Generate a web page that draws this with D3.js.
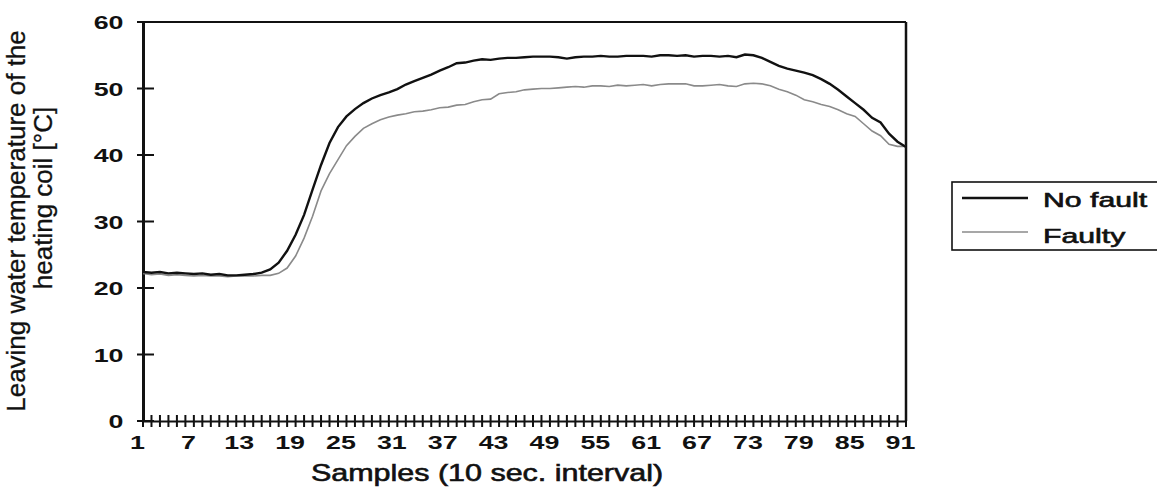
<!DOCTYPE html>
<html>
<head>
<meta charset="utf-8">
<script src="https://cdn.jsdelivr.net/npm/d3@7"></script>
<style>
  body { margin: 0; background: #fff; }
  text { font-family: "Liberation Sans", Arial, sans-serif; fill: #111; }
  .medium { stroke: #111; stroke-width: 0.6px; }
</style>
</head>
<body>
<div id="chart"></div>
<script>
// Samples (10 sec. interval)
const samples = d3.range(1, 92);

// Leaving water temperature [°C]
const noFault = [
  22.4, 22.3, 22.4, 22.2, 22.3, 22.2, 22.1, 22.2, 22.0, 22.1,
  21.9, 21.9, 22.0, 22.1, 22.3, 22.8, 23.8, 25.6, 28.0, 31.0,
  34.8, 38.5, 41.8, 44.2, 45.8, 46.9, 47.8, 48.5, 49.0, 49.4,
  49.9, 50.6, 51.1, 51.6, 52.1, 52.7, 53.2, 53.8, 53.9, 54.2,
  54.4, 54.3, 54.5, 54.6, 54.6, 54.7, 54.8, 54.8, 54.8, 54.7,
  54.5, 54.7, 54.8, 54.8, 54.9, 54.8, 54.8, 54.9, 54.9, 54.9,
  54.8, 55.0, 55.0, 54.9, 55.0, 54.8, 54.9, 54.9, 54.8, 54.9,
  54.7, 55.1, 55.0, 54.6, 54.0, 53.4, 53.0, 52.7, 52.4, 52.0,
  51.4, 50.7, 49.8, 48.8, 47.8, 46.8, 45.6, 44.9, 43.2, 42.0,
  41.2
];
const faulty = [
  22.2, 22.0, 22.1, 21.9, 22.0, 21.9, 21.8, 21.9, 21.8, 21.8,
  21.7, 21.8, 21.8, 21.8, 21.9, 21.9, 22.2, 23.0, 24.8, 27.5,
  30.8, 34.6, 37.2, 39.3, 41.4, 42.8, 44.0, 44.7, 45.3, 45.7,
  46.0, 46.2, 46.5, 46.6, 46.8, 47.1, 47.2, 47.5, 47.6, 48.0,
  48.3, 48.4, 49.2, 49.4, 49.5, 49.8, 49.9, 50.0, 50.0, 50.1,
  50.2, 50.3, 50.2, 50.4, 50.4, 50.3, 50.5, 50.4, 50.5, 50.6,
  50.4, 50.6, 50.7, 50.7, 50.7, 50.4, 50.4, 50.5, 50.6, 50.4,
  50.3, 50.7, 50.8, 50.7, 50.4, 49.9, 49.5, 49.0, 48.3, 48.0,
  47.6, 47.3, 46.8, 46.2, 45.8, 44.7, 43.6, 42.9, 41.6, 41.3,
  41.3
];

const xTickLabels = [1, 7, 13, 19, 25, 31, 37, 43, 49, 55, 61, 67, 73, 79, 85, 91];
const yTickLabels = [0, 10, 20, 30, 40, 50, 60];
const seriesNames = ["No fault", "Faulty"];

const width = 1157, height = 487;
// the scan is stretched sideways, so horizontal text gets a wider scale
const sx = 1.45;

const svg = d3.select("#chart")
  .append("svg")
    .attr("width", width)
    .attr("height", height);

const x = d3.scaleLinear().domain([1, 91]).range([143, 906]);
const y = d3.scaleLinear().domain([0, 60]).range([421, 22]);

// plot frame
svg.append("line")
  .attr("x1", x(1)).attr("x2", x(91))
  .attr("y1", y(60)).attr("y2", y(60))
  .attr("stroke", "#111").attr("stroke-width", 2);
svg.append("line")
  .attr("x1", x(91)).attr("x2", x(91))
  .attr("y1", y(60)).attr("y2", y(0))
  .attr("stroke", "#111").attr("stroke-width", 2.5);

// x axis with a tick crossing at every sample
const xAxis = svg.append("g")
  .attr("transform", `translate(0,${y(0)})`)
  .call(d3.axisBottom(x).tickValues(xTickLabels).tickSize(0).tickPadding(0));
xAxis.select(".domain").attr("stroke", "#111").attr("stroke-width", 2);
xAxis.selectAll("text")
  .attr("y", 28).attr("dy", 0)
  .attr("font-size", 18.5)
  .attr("font-weight", "bold")
  .attr("transform", `translate(-6,0) scale(${sx},1)`);

svg.append("g")
  .selectAll("line")
  .data(samples)
  .join("line")
    .attr("x1", d => x(d)).attr("x2", d => x(d))
    .attr("y1", y(0) - 6).attr("y2", y(0) + 6)
    .attr("stroke", "#111").attr("stroke-width", 2);

// y axis
const yAxis = svg.append("g")
  .attr("transform", `translate(${x(1)},0)`)
  .call(d3.axisLeft(y).tickValues(yTickLabels).tickSize(0).tickPadding(0));
yAxis.select(".domain").attr("stroke", "#111").attr("stroke-width", 3);
yAxis.selectAll("text")
  .attr("x", -19.5 / sx).attr("dy", "0.36em")
  .attr("font-size", 18.5)
  .attr("font-weight", "bold")
  .attr("text-anchor", "end")
  .attr("transform", `scale(${sx},1)`);

svg.append("g")
  .selectAll("line")
  .data(yTickLabels)
  .join("line")
    .attr("x1", x(1) - 6).attr("x2", x(1) + 11)
    .attr("y1", d => y(d)).attr("y2", d => y(d))
    .attr("stroke", "#111").attr("stroke-width", 2);

// lines
const line = d3.line()
  .x((d, i) => x(samples[i]))
  .y(d => y(d));

svg.append("path")
  .datum(faulty)
  .attr("fill", "none")
  .attr("stroke", "#8a8a8a")
  .attr("stroke-width", 1.6)
  .attr("d", line);

svg.append("path")
  .datum(noFault)
  .attr("fill", "none")
  .attr("stroke", "#111")
  .attr("stroke-width", 2.4)
  .attr("d", line);

// axis titles
svg.append("text")
  .attr("class", "medium")
  .attr("transform", `translate(487,481) scale(1.27,1)`)
  .attr("text-anchor", "middle")
  .attr("font-size", 24)
  .text("Samples (10 sec. interval)");

svg.append("text")
  .attr("transform", "translate(25,221) rotate(-90)")
  .attr("text-anchor", "middle")
  .attr("font-size", 26)
  .attr("stroke", "#111").attr("stroke-width", 0.3)
  .text("Leaving water temperature of the");
svg.append("text")
  .attr("transform", "translate(52,198) rotate(-90)")
  .attr("text-anchor", "middle")
  .attr("font-size", 26)
  .attr("stroke", "#111").attr("stroke-width", 0.3)
  .text("heating coil [°C]");

// legend
const legend = svg.append("g");
legend.append("rect")
  .attr("x", 952).attr("y", 182)
  .attr("width", 215).attr("height", 68)
  .attr("fill", "#fff")
  .attr("stroke", "#111").attr("stroke-width", 1.6);

const legendItems = [
  { name: seriesNames[0], color: "#111", w: 2.4, y: 198, base: 207 },
  { name: seriesNames[1], color: "#8a8a8a", w: 1.6, y: 232, base: 243 }
];
legend.selectAll(".key")
  .data(legendItems)
  .join("line")
    .attr("class", "key")
    .attr("x1", 962).attr("x2", 1028)
    .attr("y1", d => d.y).attr("y2", d => d.y)
    .attr("stroke", d => d.color)
    .attr("stroke-width", d => d.w);
legend.selectAll(".label")
  .data(legendItems)
  .join("text")
    .attr("class", "label medium")
    .attr("transform", d => `translate(1043,${d.base}) scale(1.55,1)`)
    .attr("font-size", 19.5)
    .text(d => d.name);
</script>
</body>
</html>
